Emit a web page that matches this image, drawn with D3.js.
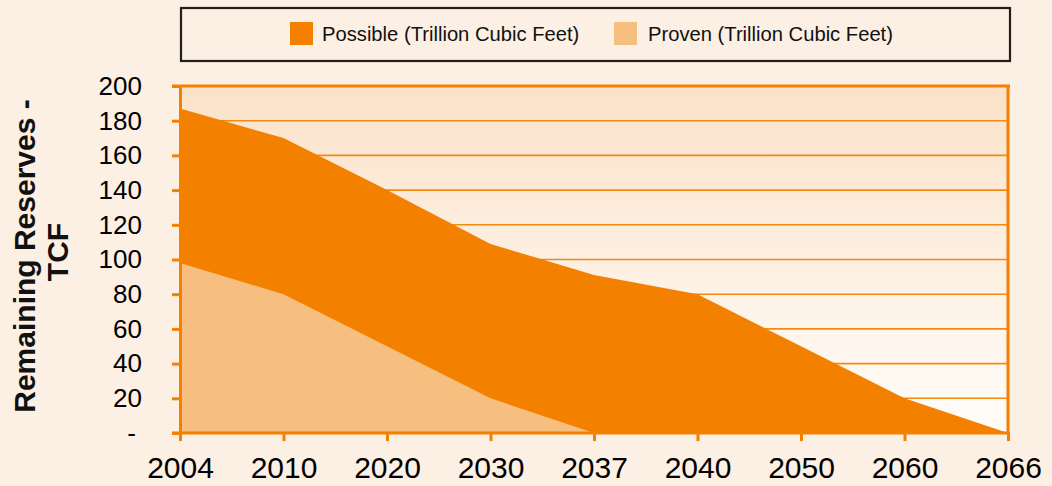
<!DOCTYPE html>
<html>
<head>
<meta charset="utf-8">
<script src="https://cdn.jsdelivr.net/npm/d3@7"></script>
<style>
  html, body { margin: 0; padding: 0; background: #fcefe3; }
  svg { display: block; font-family: "Liberation Sans", Arial, sans-serif; }
</style>
</head>
<body>
<svg id="chart" width="1052" height="486"></svg>
<script>
// Remaining natural gas reserves, trillion cubic feet
const years = ["2004", "2010", "2020", "2030", "2037", "2040", "2050", "2060", "2066"];
const possible = [187, 170, 140, 109, 91, 80, 50, 20, 0];
const proven = [98, 80, 50, 20, 0, 0, 0, 0, 0];
const yTicks = [0, 20, 40, 60, 80, 100, 120, 140, 160, 180, 200];
const seriesNames = ["Possible (Trillion Cubic Feet)", "Proven (Trillion Cubic Feet)"];
const seriesColors = ["#f48000", "#f6bf80"];

const svg = d3.select("#chart");
const plotLeft = 180, plotRight = 1008, plotTop = 86, plotBottom = 433;
const orange = "#f48000";

const x = d3.scalePoint().domain(years).range([plotLeft, plotRight]);
const y = d3.scaleLinear().domain([0, 200]).range([plotBottom, plotTop]);

// plot background gradient
const defs = svg.append("defs");
const grad = defs.append("linearGradient").attr("id", "plotBg")
  .attr("x1", 0).attr("y1", 0).attr("x2", 0).attr("y2", 1);
grad.append("stop").attr("offset", "0%").attr("stop-color", "#fbe2c9");
grad.append("stop").attr("offset", "100%").attr("stop-color", "#fffdfa");
svg.append("rect").attr("x", plotLeft).attr("y", plotTop)
  .attr("width", plotRight - plotLeft).attr("height", plotBottom - plotTop)
  .attr("fill", "url(#plotBg)");

// horizontal gridlines
svg.append("g").selectAll("line").data(yTicks.filter(t => t > 0 && t < 200)).join("line")
  .attr("x1", plotLeft).attr("x2", plotRight)
  .attr("y1", d => y(d)).attr("y2", d => y(d))
  .attr("stroke", "#f58a10").attr("stroke-width", 1.6);

// areas: possible total, proven drawn on top
const area = vals => d3.area()
  .x((d, i) => x(years[i]))
  .y0(y(0))
  .y1(d => y(d))(vals);
svg.append("path").attr("d", area(possible)).attr("fill", seriesColors[0]);
svg.append("path").attr("d", area(proven)).attr("fill", seriesColors[1]);

// top border and right border
svg.append("line").attr("x1", plotLeft - 8).attr("x2", plotRight + 2)
  .attr("y1", y(200)).attr("y2", y(200))
  .attr("stroke", orange).attr("stroke-width", 3);
svg.append("line").attr("x1", plotRight).attr("x2", plotRight)
  .attr("y1", plotTop).attr("y2", plotBottom)
  .attr("stroke", orange).attr("stroke-width", 3);

// y axis
const yAxis = svg.append("g").attr("transform", `translate(${plotLeft},0)`)
  .call(d3.axisLeft(y).tickValues(yTicks).tickSize(8).tickPadding(30)
    .tickFormat(d => d === 0 ? "-" : d));
yAxis.select(".domain").attr("stroke", orange).attr("stroke-width", 3);
yAxis.selectAll(".tick line").attr("stroke", orange).attr("stroke-width", 3);
yAxis.selectAll(".tick text").attr("fill", "#000").attr("font-size", 26)
  .attr("font-family", "'Liberation Sans', Arial, sans-serif");
yAxis.selectAll(".tick text").filter(d => d === 0).attr("dx", -6);

// x axis
const xAxis = svg.append("g").attr("transform", `translate(0,${plotBottom})`)
  .call(d3.axisBottom(x).tickSize(8).tickPadding(16));
xAxis.select(".domain").attr("stroke", orange).attr("stroke-width", 3)
  .attr("d", `M${plotLeft - 8},0H${plotRight + 2}`);
xAxis.selectAll(".tick line").attr("stroke", orange).attr("stroke-width", 3);
xAxis.selectAll(".tick text").attr("fill", "#000").attr("font-size", 30)
  .attr("font-family", "'Liberation Sans', Arial, sans-serif");

// y axis title
const yt = svg.append("text")
  .attr("transform", `translate(0,256) rotate(-90)`)
  .attr("text-anchor", "middle").attr("font-weight", "bold")
  .attr("font-size", 30).attr("fill", "#111");
yt.append("tspan").attr("x", 0).attr("y", 35).text("Remaining Reserves -");
yt.append("tspan").attr("x", 4).attr("y", 68).text("TCF");

// legend
const lg = svg.append("g");
lg.append("rect").attr("x", 181).attr("y", 8).attr("width", 829).attr("height", 53)
  .attr("fill", "#fcefe3").attr("stroke", "#231f1c").attr("stroke-width", 2.2);
const legendX = [290, 614];
const legendGap = [32, 34];
seriesNames.forEach((name, i) => {
  lg.append("rect").attr("x", legendX[i]).attr("y", 22).attr("width", 23).attr("height", 23)
    .attr("fill", seriesColors[i]);
  lg.append("text").attr("x", legendX[i] + legendGap[i]).attr("y", 41)
    .attr("font-size", 20.2).attr("fill", "#111").text(name);
});
</script>
</body>
</html>
